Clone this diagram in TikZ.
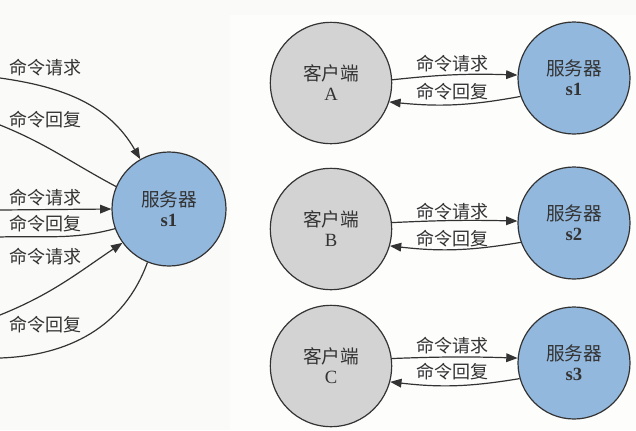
\documentclass[tikz,border=0pt]{standalone}
\usepackage{fontspec}
\setmainfont{Liberation Serif}
\newfontfamily\cjk{Noto Sans CJK SC}
\usepackage{tikz}
\usetikzlibrary{arrows.meta}

\definecolor{srvblue}{HTML}{92B8DE}
\definecolor{cligray}{HTML}{D3D3D3}
\definecolor{edgegray}{HTML}{333333}
\definecolor{paper}{HTML}{FAFAF8}
\definecolor{sheet}{HTML}{FDFDFC}

\tikzset{
    server/.style={circle, draw=edgegray, line width=0.9pt, fill=srvblue,
        minimum size=84pt, inner sep=0pt, align=center, text=edgegray,
        font=\fontsize{14}{15}\selectfont},
    client/.style={circle, draw=edgegray, line width=0.9pt, fill=cligray,
        minimum size=91pt, inner sep=0pt, align=center, text=edgegray,
        font=\fontsize{14}{15}\selectfont},
    msg/.style={draw=edgegray, line width=0.9pt},
    req/.style={msg, -{Triangle[length=8.5pt,width=6.5pt]}},
    lbl/.style={text=edgegray, inner sep=0pt, font=\cjk\fontsize{13.5}{13.5}\selectfont}
}

\begin{document}
\begin{tikzpicture}[x=0.75pt, y=-0.75pt]
                \useasboundingbox (0,0) rectangle (636,430);
                \fill[paper] (0,0) rectangle (636,430);
                \fill[sheet] (230,15) rectangle (636,430);
                \clip (0,0) rectangle (636,430);
                % one server, many clients
                \node[server, minimum size=85.5pt] (s) at (169,209) {{\cjk 服务器}\\\textbf{s1}};
                \coordinate (q1) at (0,78);
                \coordinate (r1) at (0,125);
                \coordinate (q2) at (0,210);
                \coordinate (r2) at (0,237);
                \coordinate (q3) at (0,315);
                \coordinate (r3) at (0,358);
                \draw[req] (q1) to[out=-8, in=120] (s.120);
                \draw[msg] (s.157) to[out=152, in=-22] (r1);
                \draw[req] (q2) -- (s.180);
                \draw[msg] (s.200) to[out=195, in=2] (r2);
                \draw[req] (q3) to[out=22, in=214] (s.216);
                \draw[msg] (s.248) to[out=250, in=2] (r3);
                \node[lbl] at (46,68)  {命令请求};
                \node[lbl] at (46,120) {命令回复};
                \node[lbl] at (46,198) {命令请求};
                \node[lbl] at (46,224) {命令回复};
                \node[lbl] at (46,257) {命令请求};
                \node[lbl] at (46,325) {命令回复};
                % one server per client
                \node[client] (cA) at (331,83)  {{\cjk 客户端}\\A};
                \node[client] (cB) at (331,229) {{\cjk 客户端}\\B};
                \node[client] (cC) at (331,366) {{\cjk 客户端}\\C};
                \node[server] (sA) at (574,78)  {{\cjk 服务器}\\\textbf{s1}};
                \node[server] (sB) at (574,223) {{\cjk 服务器}\\\textbf{s2}};
                \node[server] (sC) at (574,363) {{\cjk 服务器}\\\textbf{s3}};
                \draw[req] (cA.3) to[bend left=4] (sA.177);
                \draw[req] (sA.199) to[bend left=8] (cA.-18);
                \draw[req] (cB.6) to[bend left=2] (sB.178);
                \draw[req] (sB.200) to[bend left=8] (cB.-16);
                \draw[req] (cC.7) to[bend left=2] (sC.175);
                \draw[req] (sC.196) to[bend left=8] (cC.-15);
                \node[lbl] at (452,64)  {命令请求};
                \node[lbl] at (452,92)  {命令回复};
                \node[lbl] at (452,212) {命令请求};
                \node[lbl] at (452,239) {命令回复};
                \node[lbl] at (452,346) {命令请求};
                \node[lbl] at (452,372) {命令回复};
\end{tikzpicture}
\end{document}
